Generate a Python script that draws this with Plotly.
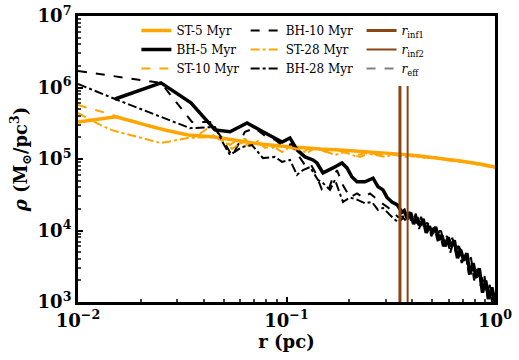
import plotly.graph_objects as go

# radius (pc) and density (Msun/pc^3)
r_st5 = [0.0100, 0.0152, 0.0210, 0.0261, 0.0337, 0.0454, 0.0598, 0.0746, 0.0931, 0.116,
         0.145, 0.181, 0.225, 0.281, 0.350, 0.437, 0.545, 0.680, 0.848, 1.0]
rho_st5 = [3.3e5, 3.9e5, 3.0e5, 2.55e5, 2.17e5, 2.03e5, 1.79e5, 1.62e5, 1.52e5, 1.43e5,
           1.38e5, 1.34e5, 1.29e5, 1.21e5, 1.17e5, 1.10e5, 1.03e5, 9.4e4, 8.5e4, 7.7e4]

r_st10 = [0.0100, 0.0156, 0.0210, 0.0261, 0.0337, 0.0376, 0.0420, 0.0454, 0.0490, 0.0536,
          0.0579, 0.0632, 0.0683, 0.0746, 0.0833, 0.0910, 0.1006, 0.1098, 0.120, 0.1296,
          0.1447, 0.1617, 0.1805, 0.2016, 0.2252, 0.2515, 0.2808, 0.3137, 0.350, 0.391,
          0.437, 0.488, 0.545, 0.608, 0.680, 0.759, 0.848, 0.946, 1.0]
rho_st10 = [5.7e5, 3.9e5, 3.0e5, 2.55e5, 2.17e5, 2.17e5, 2.7e5, 2.03e5, 1.97e5, 1.57e5,
            1.85e5, 1.91e5, 1.47e5, 1.67e5, 1.34e5, 1.62e5, 1.52e5, 1.34e5, 1.25e5, 1.43e5,
            1.34e5, 1.21e5, 1.29e5, 1.17e5, 1.07e5, 1.21e5, 1.14e5, 1.17e5, 1.10e5, 1.14e5,
            1.07e5, 1.03e5, 1.03e5, 9.7e4, 9.4e4, 8.8e4, 8.5e4, 8.0e4, 7.7e4]

r_st28 = [0.0100, 0.0115, 0.0144, 0.0250, 0.0337, 0.0454, 0.0507, 0.0548, 0.0598, 0.0668,
          0.0730, 0.0789, 0.0861, 0.0952, 0.1039, 0.1135, 0.1254, 0.137, 0.153, 0.1708,
          0.1908, 0.213, 0.2379, 0.2658, 0.2968, 0.3314, 0.370, 0.413, 0.462, 0.515,
          0.576, 0.643, 0.718, 0.802, 0.896, 1.0]
rho_st28 = [4.4e5, 3.5e5, 2.55e5, 1.67e5, 1.97e5, 2.03e5, 1.73e5, 1.38e5, 1.67e5, 1.52e5,
            1.79e5, 1.43e5, 1.52e5, 1.25e5, 1.47e5, 1.38e5, 1.21e5, 1.43e5, 1.29e5, 1.14e5,
            1.25e5, 1.10e5, 1.21e5, 1.14e5, 1.07e5, 1.17e5, 1.07e5, 1.10e5, 1.03e5, 1.07e5,
            9.7e4, 9.4e4, 9.1e4, 8.5e4, 8.0e4, 7.5e4]

r_bh5 = [0.01505, 0.0250, 0.0348, 0.0454, 0.0536, 0.0647, 0.0771, 0.0861, 0.0952, 0.1039,
         0.1123, 0.1227, 0.134, 0.140, 0.1496, 0.1671, 0.1845, 0.195, 0.2061, 0.2178,
         0.2379, 0.260, 0.2747, 0.2903, 0.3034, 0.3206, 0.3388, 0.3581,
         0.367, 0.380, 0.394, 0.407, 0.422, 0.437, 0.452, 0.468, 0.484, 0.501,
         0.519, 0.537, 0.556, 0.575, 0.596, 0.617, 0.638, 0.661, 0.684, 0.708,
         0.733, 0.759, 0.785, 0.813, 0.841, 0.871, 0.902, 0.933, 0.966, 1.0]
rho_bh5 = [6.9e5, 1.16e6, 6.1e5, 2.55e5, 2.4e5, 3.2e5, 2.4e5, 2.03e5, 1.73e5, 1.97e5,
           1.34e5, 1.07e5, 9.7e4, 8.8e4, 6.4e4, 7.5e4, 8.8e4, 7.5e4, 5.6e4, 4.8e4,
           4.8e4, 5.4e4, 4.1e4, 3.7e4, 2.9e4, 2.5e4, 2.3e4, 1.8e4,
           1.9e4, 1.45e4, 1.78e4, 1.23e4, 1.53e4, 1.17e4, 1.45e4, 9.3e3, 1.15e4, 9.1e3,
           1.12e4, 7.4e3, 8.5e3, 6.0e3, 8.0e3, 6.0e3, 7.3e3, 4.1e3, 5.4e3, 3.8e3,
           4.8e3, 2.45e3, 3.5e3, 2.2e3, 2.95e3, 1.35e3, 2.0e3, 1.1e3, 1.6e3, 1.0e3]

r_bh10 = [0.0100, 0.0250, 0.0352, 0.0430, 0.0490, 0.0548, 0.0632, 0.0706, 0.0789, 0.0881,
          0.0973, 0.1063, 0.1135, 0.1227, 0.1296, 0.137, 0.148, 0.1581, 0.1653, 0.1746,
          0.1866, 0.2016, 0.2178, 0.2327, 0.2515, 0.2717, 0.2871, 0.3068, 0.3242, 0.3426,
          0.372, 0.385, 0.398, 0.412, 0.427, 0.442, 0.457, 0.473, 0.490, 0.507,
          0.525, 0.543, 0.562, 0.582, 0.603, 0.624, 0.646, 0.668, 0.692, 0.716,
          0.741, 0.767, 0.794, 0.822, 0.851, 0.881, 0.912, 0.944, 0.977]
rho_bh10 = [1.7e6, 1.16e6, 3.3e5, 3.3e5, 1.97e5, 1.10e5, 2.4e5, 2.7e5, 2.1e5, 1.85e5,
            1.52e5, 1.62e5, 1.14e5, 8.2e4, 8.8e4, 6.6e4, 3.7e4, 3.5e4, 5.1e4, 7.0e4,
            4.3e4, 2.9e4, 3.3e4, 2.9e4, 3.3e4, 2.7e4, 2.4e4, 2.1e4, 1.8e4, 1.55e4,
            1.57e4, 1.88e4, 1.26e4, 1.58e4, 1.16e4, 1.55e4, 1.10e4, 1.29e4, 8.3e3, 1.10e4,
            7.9e3, 1.0e4, 6.0e3, 8.1e3, 5.7e3, 7.9e3, 5.1e3, 6.1e3, 3.5e3, 5.0e3,
            3.2e3, 4.2e3, 2.0e3, 2.9e3, 1.7e3, 2.45e3, 1.3e3, 1.74e3, 8.0e2]

r_bh28 = [0.0100, 0.01505, 0.03445, 0.0454, 0.0496, 0.0536, 0.0612, 0.0683, 0.0771, 0.0881,
          0.0952, 0.1039, 0.1123, 0.1200, 0.1296, 0.134, 0.1416, 0.1496, 0.1617, 0.1708,
          0.1866, 0.2016, 0.2178, 0.2379, 0.2571, 0.2747, 0.2903, 0.3137, 0.3314, 0.3426,
          0.363, 0.376, 0.389, 0.403, 0.417, 0.432, 0.447, 0.462, 0.479, 0.495,
          0.513, 0.531, 0.550, 0.569, 0.589, 0.610, 0.631, 0.653, 0.676, 0.700,
          0.724, 0.750, 0.776, 0.804, 0.832, 0.861, 0.891, 0.923, 0.955, 0.989]
rho_bh28 = [1.12e6, 6.9e5, 2.7e5, 2.8e5, 1.67e5, 1.14e5, 1.47e5, 1.57e5, 1.03e5, 1.07e5,
            9.1e4, 9.7e4, 6.0e4, 7.0e4, 7.7e4, 6.6e4, 5.1e4, 4.6e4, 3.7e4, 5.1e4,
            2.5e4, 2.9e4, 2.7e4, 2.4e4, 2.5e4, 1.94e4, 2.07e4, 1.65e4, 1.4e4, 1.3e4,
            1.5e4, 1.35e4, 1.82e4, 1.32e4, 1.72e4, 1.05e4, 1.35e4, 1.0e4, 1.26e4, 8.3e3,
            1.07e4, 7.1e3, 1.0e4, 6.9e3, 8.4e3, 4.9e3, 6.8e3, 4.6e3, 6.2e3, 3.6e3,
            4.6e3, 2.4e3, 3.5e3, 2.1e3, 2.9e3, 1.72e3, 2.3e3, 1.1e3, 1.5e3, 9.2e2]

r_inf1 = 0.350
r_inf2 = 0.381
r_eff = 1.6
rho_vline = [1e3, 1.05e6]

x_ticks = [0.01, 0.1, 1]
x_ticktext = ["10<sup>−2</sup>", "10<sup>−1</sup>", "10<sup>0</sup>"]
y_ticks = [1e3, 1e4, 1e5, 1e6, 1e7]
y_ticktext = ["10<sup>3</sup>", "10<sup>4</sup>", "10<sup>5</sup>", "10<sup>6</sup>", "10<sup>7</sup>"]

ORANGE = "#FFA500"
BROWN = "#8B4513"

fig = go.Figure()

# three legend columns, filled top to bottom like the original
fig.add_trace(go.Scatter(x=r_st5, y=rho_st5, mode="lines", name="ST-5 Myr",
                         line=dict(color=ORANGE, width=3.5), legend="legend"))
fig.add_trace(go.Scatter(x=r_bh5, y=rho_bh5, mode="lines", name="BH-5 Myr",
                         line=dict(color="black", width=3.5), legend="legend"))
fig.add_trace(go.Scatter(x=r_st10, y=rho_st10, mode="lines", name="ST-10 Myr",
                         line=dict(color=ORANGE, width=2, dash="dash"), legend="legend"))
fig.add_trace(go.Scatter(x=r_bh10, y=rho_bh10, mode="lines", name="BH-10 Myr",
                         line=dict(color="black", width=2, dash="dash"), legend="legend2"))
fig.add_trace(go.Scatter(x=r_st28, y=rho_st28, mode="lines", name="ST-28 Myr",
                         line=dict(color=ORANGE, width=2, dash="dashdot"), legend="legend2"))
fig.add_trace(go.Scatter(x=r_bh28, y=rho_bh28, mode="lines", name="BH-28 Myr",
                         line=dict(color="black", width=2, dash="dashdot"), legend="legend2"))
fig.add_trace(go.Scatter(x=[r_inf1, r_inf1], y=rho_vline, mode="lines", name="<i>r</i><sub>inf1</sub>",
                         line=dict(color=BROWN, width=3), legend="legend3"))
fig.add_trace(go.Scatter(x=[r_inf2, r_inf2], y=rho_vline, mode="lines", name="<i>r</i><sub>inf2</sub>",
                         line=dict(color=BROWN, width=2), legend="legend3"))
fig.add_trace(go.Scatter(x=[r_eff, r_eff], y=rho_vline, mode="lines", name="<i>r</i><sub>eff</sub>",
                         line=dict(color="gray", width=2, dash="dash"), legend="legend3"))

leg = dict(font=dict(family="DejaVu Serif", size=12, color="black"), bgcolor="rgba(0,0,0,0)",
           y=1.0, yanchor="top", xanchor="left", tracegroupgap=0, traceorder="normal")

fig.update_layout(
    width=519, height=360,
    margin=dict(l=78, r=24, t=16, b=58, autoexpand=False),
    paper_bgcolor="white", plot_bgcolor="white",
    font=dict(family="DejaVu Serif", color="black"),
    legend=dict(leg, x=0.14),
    legend2=dict(leg, x=0.402),
    legend3=dict(leg, x=0.68),
)

xminor = [0.02, 0.03, 0.04, 0.05, 0.06, 0.07, 0.08, 0.09, 0.2, 0.3, 0.4, 0.5, 0.6, 0.7, 0.8, 0.9]
yminor = [m * d for d in (1e3, 1e4, 1e5, 1e6) for m in range(2, 10)]

fig.update_xaxes(type="log", range=[-2, 0], tickmode="array", tickvals=x_ticks, ticktext=x_ticktext,
                 showline=True, linecolor="black", linewidth=3, mirror=True,
                 showgrid=False, zeroline=False, automargin=False, ticklabeloverflow="allow",
                 ticks="inside", ticklen=5, tickwidth=2, tickcolor="black",
                 minor=dict(tickmode="array", tickvals=xminor, ticks="inside", ticklen=3,
                            tickcolor="#444", showgrid=False),
                 tickfont=dict(family="DejaVu Serif", size=18, weight="bold"),
                 title=dict(text="<b>r (pc)</b>", font=dict(family="DejaVu Serif", size=18), standoff=2))
fig.update_yaxes(type="log", range=[3, 7], tickmode="array", tickvals=y_ticks, ticktext=y_ticktext,
                 showline=True, linecolor="black", linewidth=3, mirror=True,
                 showgrid=False, zeroline=False, automargin=False, ticklabeloverflow="allow",
                 ticks="inside", ticklen=5, tickwidth=2, tickcolor="black",
                 minor=dict(tickmode="array", tickvals=yminor, ticks="inside", ticklen=3,
                            tickcolor="#444", showgrid=False),
                 tickfont=dict(family="DejaVu Serif", size=18, weight="bold"),
                 title=dict(text="<b><i>ρ</i> (M<sub>⊙</sub>/pc<sup>3</sup>)</b>",
                            font=dict(family="DejaVu Serif", size=18), standoff=6))

# drop the default 8px body margin so the figure sits at the page corner
fig.write_html("out.html", config={"displayModeBar": False},
               post_script="document.body.style.margin = '0';")
